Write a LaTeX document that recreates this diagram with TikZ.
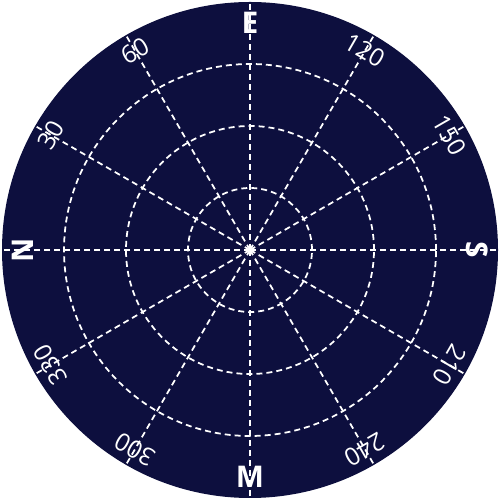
\documentclass[tikz,border=0pt]{standalone}
\usepackage{fontspec}
\setmainfont{Open Sans}
\usetikzlibrary{calc}
\definecolor{navy}{RGB}{13,15,62}
\begin{document}
\begin{tikzpicture}[x=0.02cm,y=0.02cm,
  grid/.style={white,line width=1pt,dash pattern=on 3.4pt off 2.3pt},
  letterlbl/.style={text=white,font=\bfseries\fontsize{17}{17}\selectfont,inner sep=1pt},
  numlbl/.style={text=white,font=\fontsize{14}{14}\selectfont,inner sep=1pt}]
\useasboundingbox (0,0) rectangle (500,500);
\coordinate (c) at (250,250);
\fill[navy] (c) circle (248);
\foreach \r in {62,124,186} \draw[grid] (c) circle (\r);
\foreach \b in {0,30,...,330} {
  \coordinate (e\b) at ($(c)+({180-\b}:248)$);
  \draw[grid] (c) -- (e\b);
}
\fill[white] (c) circle (3.5);
\foreach \b/\t/\rot in {0/N/90,90/E/0,180/S/-90,270/M/0}
  \node[letterlbl,rotate=\rot] (l\b) at ($(c)+({180-\b}:227)$) {\t};
\foreach \b in {30,60,120,150,210,240,300,330}
  \node[numlbl,rotate={90-\b}] (n\b) at ($(c)+({180-\b}:230)$) {\b};
\end{tikzpicture}
\end{document}
